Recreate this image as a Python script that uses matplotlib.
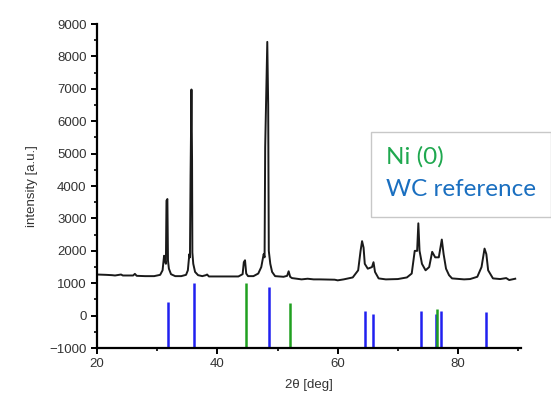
import matplotlib
matplotlib.use("Agg")
import matplotlib.pyplot as plt
from matplotlib.patches import Rectangle
from matplotlib.ticker import MultipleLocator

## measured pattern (2theta, intensity)
two_theta = [20.0, 21.5, 22.5, 23.0, 24.0, 24.3, 26.0, 26.3, 26.6, 28.0, 29.5,
             30.5, 30.9, 31.15, 31.3, 31.45, 31.55, 31.7, 31.8, 31.95, 32.3,
             33.0, 34.0, 34.8, 35.1, 35.35, 35.45, 35.55, 35.7, 35.8, 35.85,
             36.0, 36.3, 36.8, 37.5, 38.1, 38.3, 38.6, 40.0, 43.5, 44.2, 44.4,
             44.6, 44.8, 45.1, 46.0, 46.8, 47.3, 47.7, 47.85, 47.95, 48.3,
             48.45, 48.55, 48.8, 49.1, 49.6, 51.0, 51.6, 51.85, 52.1, 52.4,
             54.0, 55.0, 56.0, 57.0, 59.5, 60.0, 61.0, 62.5, 63.4, 63.8,
             64.05, 64.3, 64.5, 65.0, 65.7, 65.95, 66.2, 66.8, 68.0, 70.0,
             71.5, 72.3, 72.8, 73.2, 73.4, 73.6, 74.0, 74.6, 75.2, 75.7, 76.2,
             76.8, 77.3, 77.6, 78.0, 78.5, 79.0, 81.0, 82.0, 83.2, 83.9, 84.4,
             84.7, 85.0, 85.8, 87.0, 88.0, 88.5, 89.5]
intensity = [1270, 1260, 1250, 1240, 1270, 1240, 1240, 1290, 1230, 1220, 1220,
             1260, 1400, 1850, 1700, 1600, 3550, 3600, 1700, 1450, 1280,
             1220, 1220, 1260, 1400, 1900, 1800, 4300, 6980, 4800, 1950,
             1600, 1350, 1250, 1220, 1250, 1270, 1210, 1210, 1210, 1280, 1650,
             1710, 1300, 1220, 1220, 1300, 1500, 1900, 1800, 5200, 8450,
             6500, 2000, 1600, 1350, 1220, 1200, 1230, 1370, 1200, 1160,
             1120, 1140, 1120, 1120, 1110, 1090, 1120, 1180, 1400, 2000,
             2300, 2100, 1600, 1450, 1500, 1650, 1350, 1150, 1120, 1130,
             1180, 1300, 2000, 2000, 2850, 2000, 1600, 1400, 1500, 1970, 1800,
             1800, 2350, 1900, 1450, 1250, 1150, 1120, 1130, 1200, 1500, 2070,
             1900, 1400, 1150, 1130, 1160, 1100, 1140]

## reference sticks
wc_pos = [31.8, 36.1, 48.6, 64.5, 65.8, 73.8, 76.3, 77.2, 84.7]
wc_int = [430, 1000, 870, 150, 50, 150, 50, 130, 100]
ni_pos = [44.7, 52.1, 76.5]
ni_int = [1000, 380, 200]

plt.rcParams['font.family'] = 'Liberation Sans'
plt.rcParams['xtick.direction'] = 'out'
plt.rcParams['ytick.direction'] = 'out'

fig = plt.figure(figsize=(5.51, 4.01), dpi=100)
ax = fig.add_axes([0.176, 0.132, 0.770, 0.808])

ax.plot(two_theta, intensity, color='#1a1a1a', lw=1.4)
ax.vlines(wc_pos, -1000, wc_int, color='#2020f0', lw=1.8)
ax.vlines(ni_pos, -1000, ni_int, color='#20a020', lw=1.8)

ax.set_xlim(20, 90.5)
ax.set_ylim(-1000, 9000)
ax.xaxis.set_major_locator(MultipleLocator(20))
ax.xaxis.set_minor_locator(MultipleLocator(10))
ax.yaxis.set_major_locator(MultipleLocator(1000))
ax.yaxis.set_minor_locator(MultipleLocator(500))
for s in ['top', 'right']:
    ax.spines[s].set_visible(False)
for s in ['left', 'bottom']:
    ax.spines[s].set_linewidth(1.6)
ax.tick_params(which='major', length=4, width=1.4, labelsize=9.5, labelcolor='#333333')
ax.tick_params(which='minor', length=2.5, width=1.2)
ax.set_xlabel('2θ [deg]', fontsize=9.5, color='#333333', labelpad=6)
ax.set_ylabel('intensity [a.u.]', fontsize=9.5, color='#333333', labelpad=8)

# legend box
fig.patches.append(Rectangle((371/551, 1-217/401), 180/551, 85/401,
                             transform=fig.transFigure, facecolor='white',
                             edgecolor='#c8c8c8', lw=1, zorder=5))
fig.text(386/551, 1-157/401, 'Ni (0)', color='#1fa84f', fontsize=17.5,
         family='Lato', va='center', zorder=6)
fig.text(386/551, 1-190/401, 'WC reference', color='#1a6fc0', fontsize=17.5,
         family='Lato', va='center', zorder=6)

plt.savefig('out.png', dpi=100)
